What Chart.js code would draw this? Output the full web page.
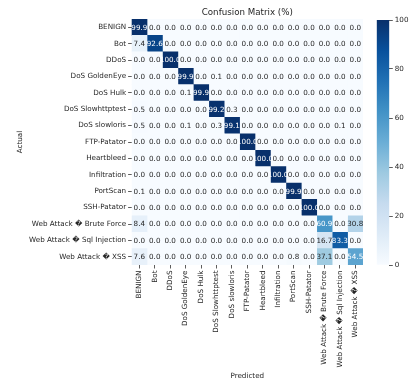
<!DOCTYPE html>
<html lang="en">
<head>
<meta charset="UTF-8">
<title>Confusion Matrix</title>
<style>
  body{margin:0;background:#fff}
  #wrap{position:relative;width:412px;height:383px}
  #wrap canvas{position:absolute;top:0}
  #cm{left:0}
  #cbar{left:366px}
</style>
</head>
<body>
<div id="wrap">
  <canvas id="cm" width="412" height="383"></canvas>
  <canvas id="cbar" width="46" height="383"></canvas>
</div>
<script src="https://cdn.jsdelivr.net/npm/chart.js"></script>
<script>
const classLabels = ['BENIGN','Bot','DDoS','DoS GoldenEye','DoS Hulk','DoS Slowhttptest','DoS slowloris',
  'FTP-Patator','Heartbleed','Infiltration','PortScan','SSH-Patator',
  'Web Attack \uFFFD Brute Force','Web Attack \uFFFD Sql Injection','Web Attack \uFFFD XSS']

// rows = actual, columns = predicted (%)
const cm = [
  [99.9,0,0,0,0,0,0,0,0,0,0,0,0,0,0],
  [7.4,92.6,0,0,0,0,0,0,0,0,0,0,0,0,0],
  [0,0,100,0,0,0,0,0,0,0,0,0,0,0,0],
  [0,0,0,99.9,0,0.1,0,0,0,0,0,0,0,0,0],
  [0,0,0,0.1,99.9,0,0,0,0,0,0,0,0,0,0],
  [0.5,0,0,0,0,99.2,0.3,0,0,0,0,0,0,0,0],
  [0.5,0,0,0.1,0,0.3,99.1,0,0,0,0,0,0,0.1,0],
  [0,0,0,0,0,0,0,100,0,0,0,0,0,0,0],
  [0,0,0,0,0,0,0,0,100,0,0,0,0,0,0],
  [0,0,0,0,0,0,0,0,0,100,0,0,0,0,0],
  [0.1,0,0,0,0,0,0,0,0,0,99.9,0,0,0,0],
  [0,0,0,0,0,0,0,0,0,0,0,100,0,0,0],
  [8.4,0,0,0,0,0,0,0,0,0,0,0,60.9,0,30.8],
  [0,0,0,0,0,0,0,0,0,0,0,0,16.7,83.3,0],
  [7.6,0,0,0,0,0,0,0,0,0,0.8,0,37.1,0,54.5]
]

const cbarTicks = [0,20,40,60,80,100]

const blues = ['#f7fbff','#deebf7','#c6dbef','#9ecae1','#6baed6','#4292c6','#2171b5','#08519c','#08306b']
const FONT = 'DejaVu Sans'
const txt = '#262626'
const tickCol = '#333'

function hexRgb(h){ return [1,3,5].map(k=>parseInt(h.substr(k,2),16)) }
function blueRgb(t){
  t = Math.max(0,Math.min(1,t))
  let p = t*(blues.length-1), i = Math.min(Math.floor(p), blues.length-2), f = p-i
  let a = hexRgb(blues[i]), b = hexRgb(blues[i+1])
  return a.map((v,k)=>Math.round(v+(b[k]-v)*f))
}
function blueAt(t){ const c = blueRgb(t); return `rgb(${c[0]},${c[1]},${c[2]})` }
function textColor(v){
  const lin = blueRgb(v/100).map(c=>{c/=255; return c<=0.03928 ? c/12.92 : Math.pow((c+0.055)/1.055,2.4)})
  const lum = 0.2126*lin[0]+0.7152*lin[1]+0.0722*lin[2]
  return lum > 0.408 ? txt : '#ffffff'
}

const cellText = {
  id:'cellText',
  afterDatasetsDraw(chart){
    const ctx = chart.ctx
    ctx.save()
    ctx.font = `7.2px "${FONT}"`
    ctx.textAlign = 'center'
    ctx.textBaseline = 'middle'
    chart.data.datasets.forEach((ds,j)=>{
      chart.getDatasetMeta(j).data.forEach((bar,i)=>{
        const v = cm[i][j]
        ctx.fillStyle = textColor(v)
        ctx.fillText(v.toFixed(1),(bar.x+bar.base)/2,bar.y+0.5)
      })
    })
    ctx.restore()
  }
}

const datasets = classLabels.map((name,j)=>({
  label:name,
  data:classLabels.map(()=>[j,j+1]),
  backgroundColor:cm.map(row=>blueAt(row[j]/100)),
  borderWidth:0,
  grouped:false,
  barPercentage:1,
  categoryPercentage:1
}))

const smallFont = {family:FONT, size:7.2}

new Chart(document.getElementById('cm'),{
  type:'bar',
  data:{labels:classLabels, datasets:datasets},
  options:{
    indexAxis:'y',
    responsive:false,
    animation:false,
    layout:{padding:{left:0,right:49,top:0,bottom:0}},
    plugins:{
      legend:{display:false},
      tooltip:{enabled:false},
      title:{display:true,text:'Confusion Matrix (%)',fullSize:false,color:txt,
        font:{family:FONT,size:8.7,weight:'normal'},padding:{top:7.3,bottom:1.3}}
    },
    scales:{
      x:{
        type:'linear',min:0,max:15,position:'bottom',
        afterBuildTicks:s=>{ s.ticks = classLabels.map((_,j)=>({value:j+0.5})) },
        afterFit:s=>{ s.height = 118 },
        ticks:{autoSkip:false,minRotation:90,maxRotation:90,padding:2,color:txt,font:smallFont,
          callback:(v,i)=>classLabels[i]},
        grid:{drawOnChartArea:false,tickLength:3.5,tickColor:tickCol,tickWidth:0.8},
        border:{display:false},
        title:{display:true,text:'Predicted',color:txt,font:smallFont,padding:{top:0,bottom:2.4}}
      },
      y:{
        afterFit:s=>{ s.width = 131.6 },
        ticks:{autoSkip:false,padding:2,color:txt,font:smallFont},
        grid:{offset:false,drawOnChartArea:false,tickLength:3.5,tickColor:tickCol,tickWidth:0.8},
        border:{display:false},
        title:{display:true,text:'Actual',color:txt,font:smallFont,padding:{top:15.7,bottom:0}}
      }
    }
  },
  plugins:[cellText]
})

// colorbar
new Chart(document.getElementById('cbar'),{
  type:'bar',
  data:{labels:[''],datasets:[{
    data:[[0,100]],
    borderWidth:0,barPercentage:1,categoryPercentage:1,
    backgroundColor:(c)=>{
      const area = c.chart.chartArea
      if(!area) return blues[0]
      const g = c.chart.ctx.createLinearGradient(0,area.bottom,0,area.top)
      blues.forEach((b,k)=>g.addColorStop(k/(blues.length-1),b))
      return g
    }
  }]},
  options:{
    responsive:false,
    animation:false,
    layout:{padding:{left:10.7,right:0,top:20,bottom:118}},
    plugins:{legend:{display:false},tooltip:{enabled:false}},
    scales:{
      x:{display:false},
      y:{
        position:'right',min:0,max:100,
        afterBuildTicks:s=>{ s.ticks = cbarTicks.map(v=>({value:v})) },
        afterFit:s=>{ s.width = 22.7 },
        ticks:{padding:2,color:txt,font:smallFont},
        grid:{drawOnChartArea:false,tickLength:3.5,tickColor:tickCol,tickWidth:0.8},
        border:{display:false}
      }
    }
  }
})
</script>
</body>
</html>
